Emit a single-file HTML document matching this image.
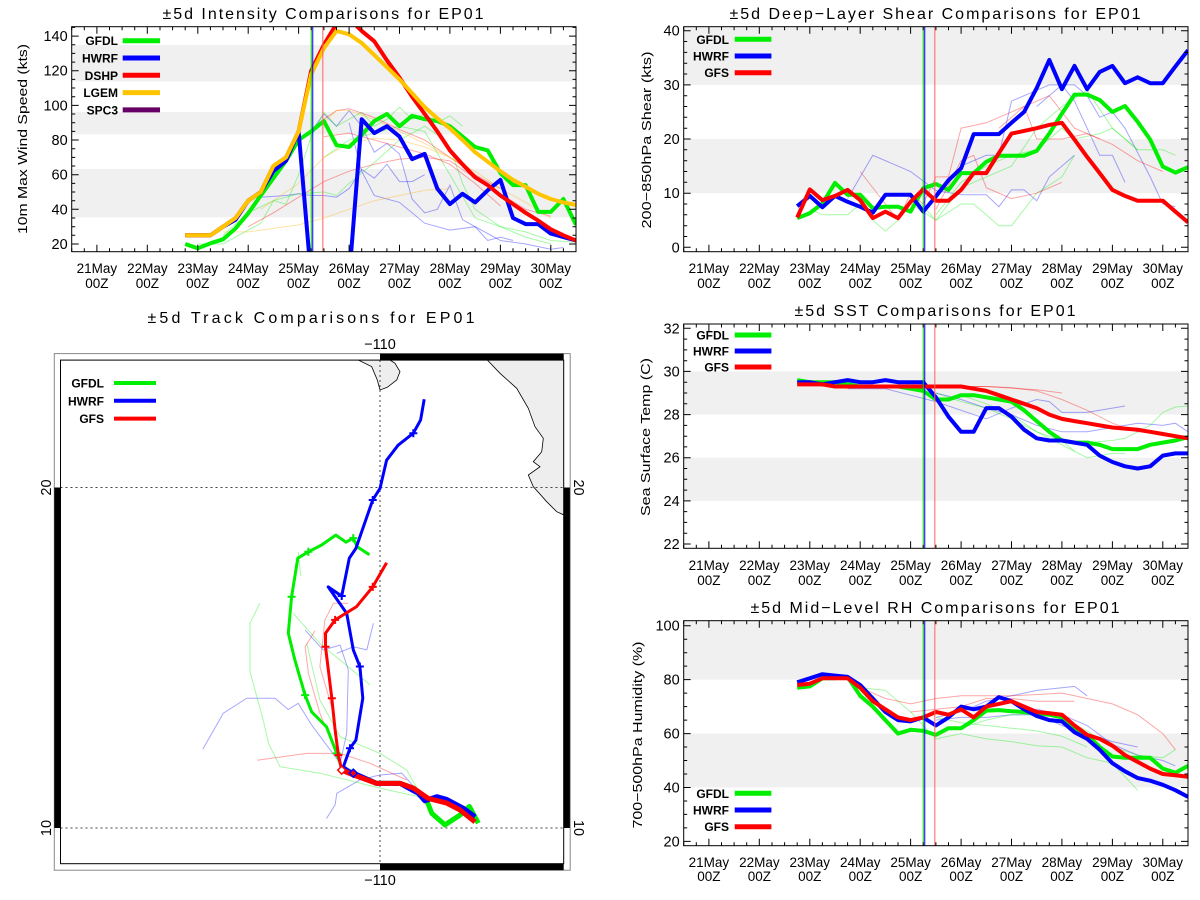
<!DOCTYPE html>
<html><head><meta charset="utf-8"><title>EP01 comparisons</title>
<style>
html,body{margin:0;padding:0;background:#fff;}
svg{display:block;font-family:"Liberation Sans",Arial,sans-serif;}
</style></head>
<body>
<svg id="chart" xmlns="http://www.w3.org/2000/svg" width="1200" height="900" viewBox="0 0 1200 900">
<rect x="0" y="0" width="1200" height="900" fill="#fff"/>
</svg>
<script>
// ---------- time axis (days of May, 6-hourly) ----------
const times6h = [22.75,23.0,23.25,23.5,23.75,24.0,24.25,24.5,24.75,25.0,25.25,25.5,25.75,26.0,26.25,26.5,26.75,27.0,27.25,27.5,27.75,28.0,28.25,28.5,28.75,29.0,29.25,29.5,29.75,30.0,30.25,30.5];
const dayTickValues = [21,22,23,24,25,26,27,28,29,30];
const dayTickLabels = ["21May","22May","23May","24May","25May","26May","27May","28May","29May","30May"];
const initLines = [25.25,25.28,25.48];

// ---------- intensity ----------
const intGFDL = [20,17.5,20.4,22.7,29,37.7,48,58,68,80,85,91,77,76,83,91,95,88,94,92,91,88,82,76,74,61,54,54,38.5,38.5,46,31];
const intHWRF = [25,25,25,30,34,45,50,62,68,85,0,0,0,0,92,84,88,82,69,72,52,43,49,44,51,57,35,31.5,31.5,26,24,22];
const intDSHP = [25,25,25,30,35,45,50,65,70,85,120,135,147,150,143,137,126,116,105,95,85,74,66,58.5,54,48,43,38,33.5,28.5,25,22];
const intLGEM = [25,25,25,30,35,45,50,65,70,85,118,133,143,141,136,129,122,115,107,99,92.5,86.7,80,73,67.5,62,57,53,49,46,44,42.5];
const intThinBlue = [
 [[24.25,47],[24.75,48],[25.0,49],[25.25,48],[25.5,48],[25.75,47],[26.0,52],[26.25,63],[26.5,58],[26.75,66],[27.0,56],[27.25,56],[27.5,60]],
 [[25.25,85],[25.5,95],[25.75,88],[26.0,97],[26.25,88],[26.5,73],[26.75,78],[27.0,72],[27.25,46],[27.5,38],[27.75,40],[28.0,54],[28.25,34],[28.5,30],[28.75,22],[29.0,24],[29.25,22]],
 [[26.0,90],[26.25,62],[26.5,48],[27.0,44],[27.5,32],[28.0,28],[28.5,30],[29.0,22],[29.5,20],[30.0,17],[30.25,18]]];
const intThinGreen = [
 [[23.0,20],[23.5,20],[24.0,28],[24.25,32],[24.5,45],[24.75,43],[25.0,60],[25.25,82],[25.5,96],[25.75,88],[26.0,92],[26.25,96],[26.5,88],[26.75,92],[27.0,99],[27.25,92],[27.5,95],[27.75,90],[28.0,94],[28.25,88]],
 [[23.5,25],[24.0,38],[24.5,45],[25.0,49],[25.5,50],[25.75,48],[26.0,55],[26.5,67],[27.0,80],[27.5,88],[27.75,83],[28.0,76],[28.25,55],[28.5,40],[29.0,30],[29.5,27],[30.0,22],[30.5,21]],
 [[25.5,70],[26.0,80],[26.5,84],[27.0,88],[27.5,85],[28.0,60],[28.5,35],[29.0,30],[29.5,24],[30.0,20]]];
const intThinRed = [
 [[24.0,30],[24.5,38],[25.0,47],[25.5,56],[26.0,62],[26.5,66],[27.0,69],[27.5,70],[28.0,68],[28.5,58],[29.0,49],[29.5,40],[30.0,36]],
 [[25.0,80],[25.5,92],[25.75,97],[26.0,98],[26.5,93],[27.0,86],[27.5,80],[28.0,70],[28.5,60],[29.0,52]],
 [[25.5,82],[26.0,84],[26.5,80],[27.0,76],[27.5,72],[28.0,66],[28.5,55],[29.0,42]]];
const intThinYellow = [
 [[23.5,27],[24.0,27],[24.5,29],[25.0,31],[25.5,35],[26.0,40],[26.5,45],[27.0,48],[27.5,51],[28.0,52]],
 [[24.25,40],[25.0,55],[25.5,70],[26.0,78],[26.5,81],[27.0,80],[27.5,76],[28.0,70],[28.5,62],[29.0,52],[29.5,44],[30.0,35]],
 [[25.5,90],[25.75,97],[26.0,97],[26.5,92],[27.0,85],[27.5,78],[28.0,70],[28.5,60]]];

// ---------- shear ----------
const shrGFDL = [5.4,6.3,8.1,11.9,9.7,9.7,7.2,7.5,7.5,6.6,10.9,11.7,10.6,13.7,13.7,15.8,16.9,16.9,16.9,17.8,21,24.7,28.2,28.2,27.2,25,26.1,23.2,19.9,14.9,13.8,14.8];
const shrHWRF = [7.6,9.5,7.4,9.5,8.4,7.5,6.4,9.7,9.7,9.7,6.6,9.4,12.4,14.6,20.9,20.9,20.9,23,25,29.4,34.6,29.2,33.5,29.2,32.4,33.5,30.3,31.4,30.3,30.3,33.4,36.4];
const shrGFS = [5.5,10.7,8.7,9.5,10.6,8.7,5.4,6.6,5.4,8.4,10.7,8.6,8.6,10.6,13.7,13.7,17.4,21,21.5,22,22.6,23,19.9,16.7,13.7,10.6,9.5,8.6,8.6,8.6,6.6,4.6];
const shrThinBlue = [
 [[23.75,9],[24.25,17],[25.0,14],[25.5,10.5],[26.0,9.7],[26.5,9.7],[26.75,7.5],[27.0,10.6],[27.25,10.6],[27.5,8.6],[27.75,13],[28.25,17]],
 [[25.5,10],[26.0,15],[26.5,17],[26.75,17],[27.0,27],[27.5,29],[27.75,30],[28.0,30],[28.25,27],[28.5,22],[28.75,17],[29.0,17],[29.25,12]],
 [[27.5,26],[28.0,30],[28.25,30],[28.5,28],[28.75,24],[29.0,25],[29.25,22],[29.75,13],[30.0,8],[30.25,7.5]]];
const shrThinGreen = [
 [[23.0,7],[23.25,6],[23.75,6],[24.0,8],[24.25,5],[24.5,3],[24.75,5],[25.0,8],[25.5,5],[26.0,8],[26.25,8],[26.75,4],[27.0,4],[27.5,10],[28.0,13],[28.25,17]],
 [[25.0,10],[25.5,5],[26.0,11],[26.5,13],[27.0,15],[27.5,22],[28.0,26],[28.5,29],[29.0,22],[29.5,18],[30.0,18],[30.25,17]],
 [[25.5,6],[26.0,12],[26.5,15],[27.0,17],[27.5,18],[28.0,22],[28.25,20],[28.75,21],[29.0,22],[29.5,18]]];
const shrThinRed = [
 [[24.0,14],[24.5,8],[24.75,5],[25.0,10],[25.25,8],[25.5,13],[25.75,13],[26.0,22],[26.5,23],[27.0,25],[27.25,26],[27.5,20],[28.0,20],[28.5,21],[29.0,19],[29.5,16],[30.0,14]],
 [[25.5,7],[26.0,16],[26.25,17],[26.5,11],[27.0,9],[27.5,10],[28.0,12]],
 [[26.75,22],[27.25,26],[27.75,28],[28.25,22],[28.75,20]]];

// ---------- SST ----------
const sstGFDL = [29.6,29.5,29.5,29.5,29.4,29.3,29.3,29.3,29.3,29.2,29.1,28.7,28.7,28.9,28.9,28.8,28.7,28.6,28.2,27.7,27.2,26.8,26.7,26.7,26.6,26.4,26.4,26.4,26.6,26.7,26.8,26.95];
const sstHWRF = [29.5,29.5,29.4,29.5,29.6,29.5,29.5,29.6,29.5,29.5,29.5,28.8,27.9,27.2,27.2,28.3,28.3,27.9,27.3,26.9,26.8,26.8,26.7,26.6,26.1,25.8,25.6,25.5,25.6,26.1,26.2,26.2];
const sstGFS = [29.4,29.4,29.4,29.3,29.3,29.3,29.3,29.3,29.3,29.3,29.3,29.3,29.3,29.3,29.2,29.1,28.9,28.7,28.5,28.3,28.0,27.8,27.7,27.6,27.5,27.4,27.35,27.3,27.2,27.1,27.0,26.9];
const sstThinBlue = [
 [[23.75,29.2],[24.5,29.2],[25.0,28.9],[25.5,28.6],[26.0,28.2],[26.5,27.8],[27.0,28.3],[27.5,28.7],[27.75,28.6],[28.0,28.1],[28.5,28.1],[29.0,28.3],[29.25,28.4]],
 [[25.5,29.0],[26.0,28.7],[26.5,28.3],[27.0,28.0],[27.5,27.5],[28.0,27.2],[28.5,27.2],[29.0,27.4],[29.5,27.6],[30.0,27.5],[30.25,27.6],[30.5,27.2]]];
const sstThinGreen = [
 [[25.5,29.0],[26.0,28.6],[26.5,28.3],[27.0,27.8],[27.5,27.2],[28.0,26.6],[28.5,26.0],[29.0,26.2],[29.25,26.2]],
 [[26.0,28.9],[26.5,28.5],[27.0,28.0],[27.5,27.2],[28.0,26.8],[28.25,26.3]],
 [[28.5,26.7],[29.0,26.8],[29.25,26.9],[29.75,27.5],[30.0,28.1],[30.25,28.35],[30.5,28.4]]];
const sstThinRed = [
 [[26.0,29.3],[26.5,29.3],[27.0,29.25],[27.5,29.1],[28.0,28.7],[28.5,28.2],[29.0,27.6],[29.5,27.2],[30.0,27.1]],
 [[25.5,29.3],[26.5,29.3],[27.5,29.15],[28.0,29.0]]];

// ---------- RH ----------
const rhGFDL = [77,77.5,80.5,80.5,81,74,70,65,60,61.4,61,59.5,62,62,65,68.5,68.7,68.3,68,67.5,67,66,62,59.5,55,51.5,51,51,51,47,45.5,48];
const rhHWRF = [79,80.5,82,81.5,81,78,73,68,65,64.5,66,63,66,70,69,70,73.5,72,69,66.5,65,64.5,60.5,58,54,49,46,43.5,42.5,41,39,36.5];
const rhGFS = [78,78.5,80.5,80.5,80.5,77,72,69,66,65,66,68,67,69,66,70,71,72,70,68,67.5,67,63,59.5,58,55.5,52,49.5,47,45,44.5,44];
const rhThinBlue = [
 [[25.5,66],[26.0,68],[26.5,72],[27.0,74],[27.5,76],[28.0,77],[28.25,77.5],[28.5,74]],
 [[25.5,65],[26.0,66],[26.5,66],[27.0,67],[27.5,67],[28.0,63],[28.5,60],[29.0,57],[29.5,55]],
 [[27.0,68],[27.5,69],[28.0,67],[28.5,63],[29.0,56],[29.5,52],[30.0,50],[30.25,48]]];
const rhThinGreen = [
 [[24.0,77],[24.5,76],[25.0,68],[25.5,58],[26.0,60],[26.5,58],[27.0,57],[27.5,55.5],[28.0,55],[28.5,51],[29.0,49],[29.5,39]],
 [[25.5,66],[26.0,64],[26.5,63],[27.0,62],[27.5,61],[28.0,59],[28.5,55]],
 [[26.0,62],[26.5,65],[27.0,67],[27.5,67],[28.0,66],[28.5,61],[29.0,55],[29.5,52],[30.0,51],[30.25,54]]];
const rhThinRed = [
 [[24.0,77],[24.5,73],[25.0,71],[25.5,73],[26.0,74],[26.5,74],[27.0,74],[27.5,74.5],[28.0,75],[28.25,74],[28.5,73],[29.0,71],[29.5,67],[30.0,60],[30.25,54]],
 [[25.0,68],[26.0,70],[26.5,73],[27.0,73],[27.5,72],[28.0,72],[28.25,72]]];

// ---------- track (degrees) ----------
const trkHWRFLon = [-107.12,-107.48,-107.98,-108.28,-108.64,-108.84,-109.39,-110.10,-110.81,-111.11,-110.91,-110.73,-110.52,-110.61,-110.81,-111.01,-111.57,-111.16,-110.93,-110.73,-110.22,-110.00,-109.80,-109.45,-108.99,-108.77,-108.66];
const trkHWRFLat = [10.33,10.58,10.84,10.92,10.80,11.02,11.31,11.31,11.61,11.80,12.34,12.58,13.81,14.74,15.23,16.30,17.08,16.81,17.92,18.21,19.63,19.97,20.80,21.24,21.59,21.98,22.59];
const trkGFDLLon = [-107.02,-107.29,-107.58,-108.03,-108.43,-108.58,-108.99,-109.39,-110.10,-110.81,-111.16,-111.31,-111.62,-112.07,-112.27,-112.58,-112.78,-112.68,-112.49,-112.17,-111.77,-111.34,-111.03,-110.81,-110.69,-110.32];
const trkGFDLLat = [10.14,10.63,10.38,10.09,10.43,10.80,11.17,11.31,11.31,11.61,11.75,12.19,12.97,13.41,13.90,14.93,15.72,16.79,17.92,18.11,18.31,18.60,18.39,18.51,18.26,18.02];
const trkGFSLon = [-107.12,-107.58,-107.98,-108.54,-108.99,-109.39,-110.10,-110.81,-111.16,-111.26,-111.36,-111.46,-111.65,-111.65,-111.36,-110.71,-110.22,-109.80];
const trkGFSLat = [10.18,10.53,10.73,10.87,11.17,11.31,11.31,11.56,11.70,12.14,12.88,13.81,15.32,15.72,16.11,16.50,17.08,17.79];
const trkThinBlue = [
 [[-115.37,12.31],[-114.75,13.37],[-114.04,13.81],[-113.18,13.81],[-112.78,13.48],[-112.48,13.66],[-112.07,13.02],[-111.62,12.44],[-111.21,11.90]],
 [[-111.62,10.28],[-111.36,10.68],[-111.31,11.02],[-110.61,11.41],[-110.0,11.56],[-109.34,11.61],[-108.79,11.02],[-107.98,10.73]],
 [[-112.27,15.81],[-111.72,15.23],[-111.21,15.37],[-110.96,14.64],[-111.01,12.78],[-111.21,11.90]],
 [[-110.20,16.01],[-110.40,15.23],[-110.81,15.32],[-111.31,15.13]]];
const trkThinGreen = [
 [[-113.64,16.60],[-113.94,16.01],[-113.94,14.59],[-113.54,13.17],[-113.38,12.49],[-113.03,11.80],[-111.82,11.61],[-110.0,11.17],[-107.98,10.73]],
 [[-112.63,16.30],[-111.82,15.42],[-110.30,14.20]],
 [[-112.22,15.42],[-111.82,13.76],[-111.21,12.68],[-110.0,12.19],[-109.19,11.70],[-108.79,11.02]],
 [[-112.48,18.11],[-112.40,17.40]]];
const trkThinRed = [
 [[-113.72,11.99],[-112.22,12.19],[-111.21,12.19],[-110.30,11.90],[-109.19,11.41]],
 [[-110.96,16.60],[-111.41,16.60],[-111.67,16.11],[-111.82,14.74],[-111.41,13.37],[-111.21,11.90]],
 [[-111.97,15.79],[-112.27,15.32],[-112.17,14.54],[-111.82,13.37],[-111.21,11.90]]];
const trkHWRFCross = [10,13,17,20,24];
const trkGFDLCross = [11,14,17,19,23];
const trkGFSCross = [9,11,12,14,16];

// ---------- drawing ----------
const NS='http://www.w3.org/2000/svg';
const svg=document.getElementById('chart');
function mk(tag,attrs,parent){const e=document.createElementNS(NS,tag);for(const k in attrs)e.setAttribute(k,attrs[k]);(parent||svg).appendChild(e);return e;}
function tx(s,attrs,parent){const e=mk('text',attrs,parent);e.textContent=s;return e;}

const C={green:'#00ee00',blue:'#0000ff',red:'#ff0000',yellow:'#ffc400',purple:'#660066'};

function xs(p,d){return p.x0+(d-20.5)/10*(p.x1-p.x0);}
function ys(p,v){return p.y1-(v-p.vBot)/(p.vTop-p.vBot)*(p.y1-p.y0);}

function drawPanel(p){
  const g=mk('g',{});
  
  
  const cp=mk('clipPath',{id:'clip-'+p.name},g);
  mk('rect',{x:p.x0,y:p.y0,width:p.x1-p.x0,height:p.y1-p.y0},cp);
  // bands
  p.bands.forEach(function(b,i){
    const t=Math.min(b[1],p.vTop), y1=ys(p,t), y2=ys(p,b[0]);
    const r=mk('rect',{x:p.x0,y:y1,width:p.x1-p.x0,height:y2-y1,fill:'#f0f0f0'},g);
    
    
  });
  const pg=mk('g',{'clip-path':'url(#clip-'+p.name+')'},g);
  // thin lines
  p.thin.forEach(function(set){
    set.lines.forEach(function(line){
      const pts=line.map(function(q){return xs(p,q[0]).toFixed(1)+','+ys(p,q[1]).toFixed(1);}).join(' ');
      const pl=mk('polyline',{points:pts,fill:'none',stroke:set.color,'stroke-width':1,'stroke-opacity':0.35},pg);
      
      
    });
  });
  // thick series
  p.series.forEach(function(s){
    const pts=[];
    s.values.forEach(function(v,i){ if(v!==null) pts.push(xs(p,times6h[i]).toFixed(1)+','+ys(p,v).toFixed(1)); });
    const pl=mk('polyline',{points:pts.join(' '),fill:'none',stroke:s.color,'stroke-width':4,'stroke-linejoin':'round'},pg);
    
    
  });
  // init lines
  const lc=['#00cc00','#0000ff','#ff6060'];
  initLines.forEach(function(d,i){
    const ln=mk('line',{x1:xs(p,d),x2:xs(p,d),y1:p.y0,y2:p.y1,stroke:lc[i],'stroke-width':1},g);
    
    
  });
  // frame
  const fr=mk('rect',{x:p.x0,y:p.y0,width:p.x1-p.x0,height:p.y1-p.y0,fill:'none',stroke:'#000','stroke-width':1},g);
  
  
  // x ticks
  let tk='';
  for(let d=20.5;d<=30.5001;d+=0.25){
    const x=xs(p,d).toFixed(1); const maj=Math.abs(d-Math.round(d))<0.01; const L=maj?7:3.5;
    tk+='M'+x+' '+p.y1+'v-'+L+'M'+x+' '+p.y0+'v'+L;
  }
  for(let v=Math.ceil(p.vBot/p.minor)*p.minor; v<=p.vTop; v+=p.minor){
    const y=ys(p,v).toFixed(1); const maj=Math.abs(v/p.major-Math.round(v/p.major))<0.01; const L=maj?7:3.5;
    tk+='M'+p.x0+' '+y+'h'+L+'M'+p.x1+' '+y+'h-'+L;
  }
  const tp=mk('path',{d:tk,stroke:'#000','stroke-width':1,fill:'none'},g);
  
  
  // x labels
  dayTickValues.forEach(function(d,i){
    const x=xs(p,d);
    const t1=tx(dayTickLabels[i],{x:x,y:p.xl1,'text-anchor':'middle','font-size':13.5,fill:'#000'},g);
    
    
    const t2=tx('00Z',{x:x,y:p.xl2,'text-anchor':'middle','font-size':13.5,fill:'#000'},g);
    
    
  });
  // y labels
  p.yLabels.forEach(function(v){
    const t=tx(String(v),{x:p.x0-4,y:ys(p,v)+5,'text-anchor':'end','font-size':14.5,fill:'#000'},g);
    
    
  });
  // y title
  const yt=tx(p.ytitle,{x:0,y:0,'text-anchor':'middle','font-size':13,fill:'#000',textLength:p.ytLen,lengthAdjust:'spacingAndGlyphs',transform:'translate('+p.ytX+','+p.ytY+') rotate(-90)'},g);
  
  
  // title
  const tt=tx(p.title,{x:p.tX,y:p.tY,'text-anchor':'middle','font-size':16,fill:'#000',textLength:p.tLen,lengthAdjust:'spacing'},g);
  
  
  // legend
  p.legend.forEach(function(l,i){
    const y=p.legY+i*p.legDy;
    const lt=tx(l.label,{x:p.legTextX,y:y+4.5,'text-anchor':'end','font-size':12,'font-weight':'bold',fill:'#000'},g);
    
    
    const ll=mk('line',{x1:p.legX1,x2:p.legX2,y1:y,y2:y,stroke:l.color,'stroke-width':5},g);
    
    
  });
}

const legend3=[{label:'GFDL',color:C.green},{label:'HWRF',color:C.blue},{label:'GFS',color:C.red}];

drawPanel({name:'intensity',x0:71.7,x1:576,y0:26.7,y1:251.7,vTop:145.4,vBot:15.56,major:20,minor:5,
  bands:[[35.4,63.3],[83.3,96.2],[113.8,134.8]],
  thin:[{color:C.blue,lines:intThinBlue},{color:C.green,lines:intThinGreen},{color:C.red,lines:intThinRed},{color:'#ffb000',lines:intThinYellow}],
  series:[{label:'GFDL',color:C.green,values:intGFDL},{label:'HWRF',color:C.blue,values:intHWRF},{label:'DSHP',color:C.red,values:intDSHP},{label:'LGEM',color:C.yellow,values:intLGEM}],
  yLabels:[20,40,60,80,100,120,140],xl1:273,xl2:288,
  ytitle:'10m Max Wind Speed (kts)',ytLen:190,ytX:27,ytY:139,
  title:'±5d Intensity Comparisons for EP01',tX:323,tY:19,tLen:321,
  legend:[{label:'GFDL',color:C.green},{label:'HWRF',color:C.blue},{label:'DSHP',color:C.red},{label:'LGEM',color:C.yellow},{label:'SPC3',color:C.purple}],
  legY:40.7,legDy:17.3,legTextX:118,legX1:122.7,legX2:160});

drawPanel({name:'shear',x0:683.7,x1:1188,y0:26.7,y1:251.7,vTop:40.74,vBot:-0.81,major:10,minor:2,
  bands:[[10,20],[30,50]],
  thin:[{color:C.blue,lines:shrThinBlue},{color:C.green,lines:shrThinGreen},{color:C.red,lines:shrThinRed}],
  series:[{label:'GFDL',color:C.green,values:shrGFDL},{label:'HWRF',color:C.blue,values:shrHWRF},{label:'GFS',color:C.red,values:shrGFS}],
  yLabels:[0,10,20,30,40],xl1:273,xl2:288,
  ytitle:'200−850hPa Shear (kts)',ytLen:177,ytX:651,ytY:140,
  title:'±5d Deep−Layer Shear Comparisons for EP01',tX:935,tY:19,tLen:411,
  legend:legend3,legY:39.3,legDy:16.7,legTextX:729,legX1:734.7,legX2:771.4});

drawPanel({name:'sst',x0:683.7,x1:1188,y0:324,y1:548.3,vTop:32.2,vBot:21.8,major:2,minor:0.5,
  bands:[[24,26],[28,30]],
  thin:[{color:C.blue,lines:sstThinBlue},{color:C.green,lines:sstThinGreen},{color:C.red,lines:sstThinRed}],
  series:[{label:'GFDL',color:C.green,values:sstGFDL},{label:'HWRF',color:C.blue,values:sstHWRF},{label:'GFS',color:C.red,values:sstGFS}],
  yLabels:[22,24,26,28,30,32],xl1:570,xl2:585,
  ytitle:'Sea Surface Temp (C)',ytLen:158,ytX:650,ytY:437,
  title:'±5d SST Comparisons for EP01',tX:935,tY:316,tLen:281,
  legend:legend3,legY:335,legDy:16,legTextX:729,legX1:734.7,legX2:771.4});

drawPanel({name:'rh',x0:683.7,x1:1188,y0:620.7,y1:845.7,vTop:101.85,vBot:18.41,major:20,minor:5,
  bands:[[40,60],[80,120]],
  thin:[{color:C.blue,lines:rhThinBlue},{color:C.green,lines:rhThinGreen},{color:C.red,lines:rhThinRed}],
  series:[{label:'GFDL',color:C.green,values:rhGFDL},{label:'HWRF',color:C.blue,values:rhHWRF},{label:'GFS',color:C.red,values:rhGFS}],
  yLabels:[20,40,60,80,100],xl1:867,xl2:881,
  ytitle:'700−500hPa Humidity (%)',ytLen:187,ytX:642,ytY:735,
  title:'±5d Mid−Level RH Comparisons for EP01',tX:935,tY:613,tLen:369,
  legend:legend3,legY:793.3,legDy:16.7,legTextX:729,legX1:734.7,legX2:771.4});

// ---------- track map ----------
const M={x0:60.5,x1:563.7,y0:360.1,y1:863.7};
function lonX(lon){return 380+(lon+110)*33;}
function latY(lat){return 828-(lat-10)*34.06;}
(function(){
  const g=mk('g',{});
  
  
  const cp=mk('clipPath',{id:'clip-track'},g);
  mk('rect',{x:M.x0,y:M.y0,width:M.x1-M.x0,height:M.y1-M.y0},cp);
  const tt=tx('±5d Track Comparisons for EP01',{x:311,y:323,'text-anchor':'middle','font-size':16,textLength:327,lengthAdjust:'spacing'},g);
  
  
  const outer=mk('rect',{x:54.3,y:353.6,width:515.9,height:516.6,fill:'none',stroke:'#888','stroke-width':1},g);
  
  
  const borders=[[380,353.6,183.7,6.5],[380,863.7,183.7,6.5],[54.3,487.5,6.2,340.5],[563.7,487.5,6.2,340.5]];
  borders.forEach(function(b){
    const r=mk('rect',{x:b[0],y:b[1],width:b[2],height:b[3],fill:'#000'},g);
    
    
  });
  const mg=mk('g',{'clip-path':'url(#clip-track)'},g);
  const isl=mk('polygon',{points:'358.3,360 371.7,366.7 377.3,380 380,390 387.3,387.3 396.7,380 400,371.7 395,363.3 390,360',fill:'#eeeeee',stroke:'#000','stroke-width':0.8},mg);
  
  
  const coast=mk('polygon',{points:'487.3,360 500,373.3 516.7,388.3 528.3,408.3 535,426.7 543.3,438.3 541.7,451.7 533.3,461.7 540,466.7 528.3,475 533.3,486.7 546.7,501.7 556.7,511.7 564,515 564,360',fill:'#eeeeee',stroke:'#000','stroke-width':0.8},mg);
  
  
  const grid=mk('path',{d:'M380 360V863.7M60.5 487.5H563.7M60.5 828H563.7',stroke:'#444','stroke-width':1,'stroke-dasharray':'2,3',fill:'none'},mg);
  
  
  [[trkThinBlue,C.blue],[trkThinGreen,C.green],[trkThinRed,C.red]].forEach(function(s){
    s[0].forEach(function(line){
      const pl=mk('polyline',{points:line.map(function(q){return lonX(q[0]).toFixed(1)+','+latY(q[1]).toFixed(1);}).join(' '),fill:'none',stroke:s[1],'stroke-width':1,'stroke-opacity':0.35},mg);
      
      
    });
  });
  const tracks=[{n:'gfdl',lon:trkGFDLLon,lat:trkGFDLLat,c:C.green,past:10,cross:trkGFDLCross},
                {n:'hwrf',lon:trkHWRFLon,lat:trkHWRFLat,c:C.blue,past:8,cross:trkHWRFCross},
                {n:'gfs',lon:trkGFSLon,lat:trkGFSLat,c:C.red,past:8,cross:trkGFSCross}];
  tracks.forEach(function(t){
    const pts=t.lon.map(function(lo,i){return lonX(lo).toFixed(1)+','+latY(t.lat[i]).toFixed(1);});
    const past=mk('polyline',{points:pts.slice(0,t.past+1).join(' '),fill:'none',stroke:t.c,'stroke-width':5,'stroke-linejoin':'round'},mg);
    
    
    const fut=mk('polyline',{points:pts.slice(t.past).join(' '),fill:'none',stroke:t.c,'stroke-width':3,'stroke-linejoin':'round'},mg);
    
    
    let d='';
    t.cross.forEach(function(i){const x=lonX(t.lon[i]),y=latY(t.lat[i]);d+='M'+(x-4)+' '+y+'h8M'+x+' '+(y-4)+'v8';});
    const cr=mk('path',{d:d,stroke:t.c,'stroke-width':2,fill:'none'},mg);
    
    
  });
  const dr=[[trkGFSLon[8],trkGFSLat[8],'#fff',C.red],[trkHWRFLon[8],trkHWRFLat[8],C.red,C.blue]];
  dr.forEach(function(q){
    const x=lonX(q[0]),y=latY(q[1]);
    const dm=mk('polygon',{points:(x)+','+(y-4)+' '+(x+4)+','+y+' '+x+','+(y+4)+' '+(x-4)+','+y,fill:q[2],stroke:q[3],'stroke-width':1.5},mg);
    
    
  });
  const inner=mk('rect',{x:M.x0,y:M.y0,width:M.x1-M.x0,height:M.y1-M.y0,fill:'none',stroke:'#000','stroke-width':1},g);
  
  
  const lbls=[['−110',380,349,0],['−110',380,885,0]];
  lbls.forEach(function(l){
    const t=tx(l[0],{x:l[1],y:l[2],'text-anchor':'middle','font-size':14.5},g);
    
    
  });
  [[20,487.5],[10,828]].forEach(function(l){
    const a=tx(String(l[0]),{x:0,y:0,'text-anchor':'middle','font-size':14.5,transform:'translate(51,'+l[1]+') rotate(-90)'},g);
    
    
    const b=tx(String(l[0]),{x:0,y:0,'text-anchor':'middle','font-size':14.5,transform:'translate(574,'+l[1]+') rotate(90)'},g);
    
    
  });
  legend3.forEach(function(l,i){
    const y=383+i*17.8;
    const lt=tx(l.label,{x:104,y:y+4.5,'text-anchor':'end','font-size':12,'font-weight':'bold'},g);
    
    
    const ll=mk('line',{x1:114,x2:156,y1:y,y2:y,stroke:l.color,'stroke-width':4},g);
    
    
  });
})();
</script>
</body></html>
